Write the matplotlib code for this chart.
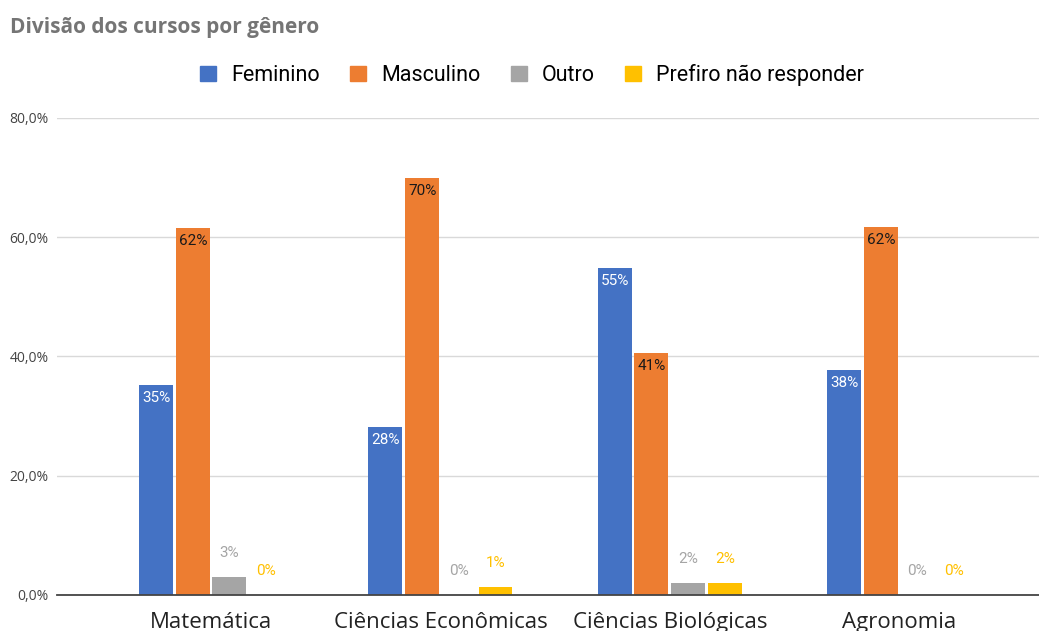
import matplotlib.pyplot as plt
from matplotlib.patches import Patch
import numpy as np

cursos = ['Matemática', 'Ciências Econômicas', 'Ciências Biológicas', 'Agronomia']
series = ['Feminino', 'Masculino', 'Outro', 'Prefiro não responder']
feminino = [35.2, 28.2, 54.9, 37.8]
masculino = [61.6, 70.0, 40.6, 61.7]
outro = [3.0, 0.0, 2.0, 0.0]
prefiro = [0.0, 1.3, 2.0, 0.0]
yticks = [0, 20, 40, 60, 80]
ytick_labels = ['0,0%', '20,0%', '40,0%', '60,0%', '80,0%']

colors = ['#4472c4', '#ed7d31', '#a5a5a5', '#ffc000']
label_colors = ['white', '#1a1a1a', '#a5a5a5', '#ffc000']

my_dpi = 100
fig = plt.figure(figsize=(1039/my_dpi, 631/my_dpi), dpi=my_dpi)
ax = fig.add_axes([57/1039, 36/631, 1 - 57/1039, 477/631])

x = np.arange(len(cursos))
step = 0.16
barWidth = 0.148
data = [feminino, masculino, outro, prefiro]

for i, vals in enumerate(data):
    pos = x + (i - 1.5) * step
    ax.bar(pos, vals, width=barWidth, color=colors[i], zorder=3)
    for p, v in zip(pos, vals):
        txt = f"{round(v)}%"
        if i < 2:
            ax.text(p, v - 2.2, txt, ha='center', va='center', color=label_colors[i],
                    fontsize=11, family='Roboto', zorder=4)
        else:
            ax.text(p, v + 4.0, txt, ha='center', va='center', color=label_colors[i],
                    fontsize=11, family='Roboto', zorder=4)

ax.set_xlim(-0.672, 3.61)
ax.set_ylim(0, 80)
ax.set_yticks(yticks)
ax.set_yticklabels(ytick_labels, fontsize=10, color='#444444', family='Open Sans')
ax.set_xticks(x)
ax.set_xticklabels(cursos, fontsize=16, color='#222222', family='Open Sans')
ax.tick_params(axis='both', length=0)
ax.tick_params(axis='x', pad=12)
ax.tick_params(axis='y', pad=6)
ax.grid(axis='y', color='#d9d9d9', linewidth=1, zorder=0)
for s in ['top', 'right', 'left']:
    ax.spines[s].set_visible(False)
ax.spines['bottom'].set_color('#444444')
ax.spines['bottom'].set_linewidth(1.3)
ax.spines['bottom'].set_zorder(5)

fig.text(10/1039, 1 - 27/631, 'Divisão dos cursos por gênero', fontsize=15,
         fontweight='bold', color='#757575', family='Open Sans', va='center')

handles = [Patch(color=c) for c in colors]
fig.legend(handles, series, loc='center', bbox_to_anchor=(532/1039, 1 - 75/631),
           ncol=4, frameon=False, handlelength=0.75, handleheight=0.75,
           handletextpad=0.7, columnspacing=1.4, prop={'family': 'Roboto', 'size': 15.5})

plt.savefig('out.png', dpi=my_dpi)
